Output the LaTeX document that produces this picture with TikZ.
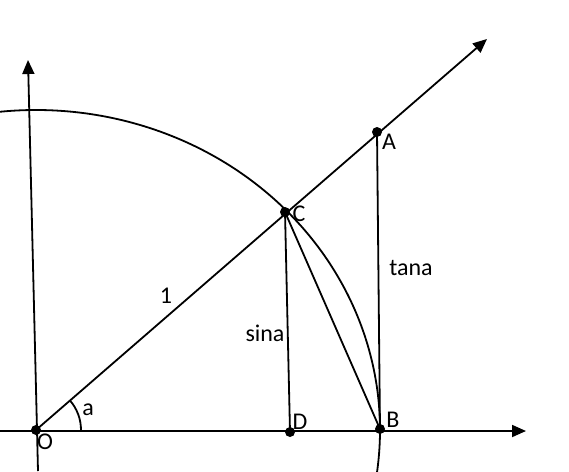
\documentclass[tikz,border=0pt]{standalone}
\usepackage{fontspec}
\setmainfont{Carlito}
\usetikzlibrary{arrows.meta}
\tikzset{
  dot/.style={circle,fill=black,inner sep=0pt,minimum size=10pt},
  lbl/.style={inner sep=0pt,font=\fontsize{24}{28}\selectfont},
  axis/.style={-{Triangle[length=14pt,width=12pt]}}
}
\begin{document}
\begin{tikzpicture}[x=1pt,y=-1pt,line width=1.8pt]
\clip (0,0) rectangle (569,471);
\node[dot] (O) at (36,430) {};
\node[dot] (A) at (377,132) {};
\node[dot] (C) at (285,212) {};
\node[dot] (D) at (290,432) {};
\node[dot] (B) at (380,429) {};
\coordinate (xl) at (0,431);
\coordinate (xr) at (526,431);
\coordinate (yb) at (38,471);
\coordinate (yt) at (28,60);
\coordinate (r) at (487,39);
% axes and ray
\draw[axis] (xl)--(xr);
\draw[axis] (yb)--(yt);
\draw[axis] (O.center)--(r);
% unit arc
\draw (O.center) ++(9:344 and 320) arc[start angle=9,end angle=-100,x radius=344,y radius=320];
\draw (O.center) ++(45,0) arc[start angle=0,end angle=-41.2,radius=45];
\draw (A.center)--(B.center);
\draw (C.center)--(D.center);
\draw (C.center)--(B.center);
% labels
\node[lbl] (lO) at (45,442) {O};
\node[lbl] (la) at (88,410) {a};
\node[lbl] (lC) at (299,214) {C};
\node[lbl] (lA) at (389,142) {A};
\node[lbl] (lD) at (300,422) {D};
\node[lbl] (lB) at (393,420) {B};
\node[lbl] (l1) at (166,296) {1};
\node[lbl] (ls) at (265,333) {sina};
\node[lbl] (lt) at (411,268) {tana};
\end{tikzpicture}
\end{document}
